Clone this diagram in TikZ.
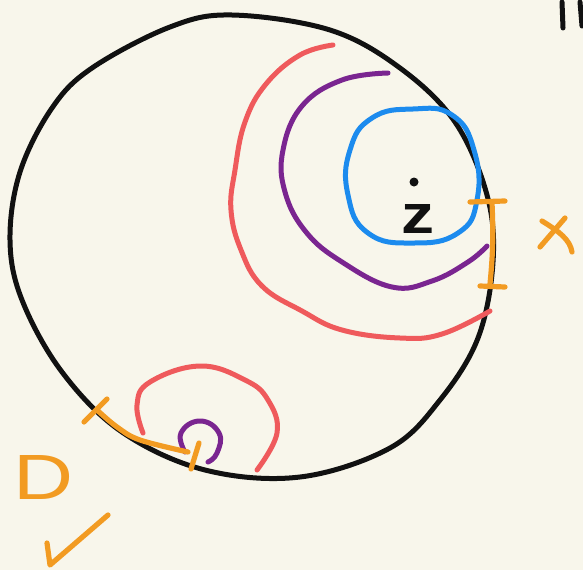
\documentclass[tikz,border=0pt]{standalone}
\usepackage{fontspec}
\usepackage{graphicx}
\setmainfont{Liberation Sans}
\definecolor{paper}{HTML}{F8F6EB}
\definecolor{inkK}{HTML}{111111}
\definecolor{inkR}{HTML}{EF5A5C}
\definecolor{inkP}{HTML}{7A2590}
\definecolor{inkB}{HTML}{1C8BEE}
\definecolor{inkO}{HTML}{F29B22}
\tikzset{
  pen/.style={line width=5pt, line cap=round, line join=round},
  blackpen/.style={pen, draw=inkK},
  redpen/.style={pen, draw=inkR},
  purplepen/.style={pen, draw=inkP},
  bluepen/.style={pen, draw=inkB},
  orangepen/.style={pen, draw=inkO, line width=5.2pt},
  letter/.style={inner sep=0pt, anchor=north west}
}

\begin{document}
\begin{tikzpicture}[x=1pt,y=-1pt]
\useasboundingbox (0,0) rectangle (583,570);
\fill[paper] (0,0) rectangle (583,570);

% big disc
\draw[blackpen] plot[smooth cycle, tension=0.6] coordinates {
  (232,15) (330,30) (400,68) (455,122) (487,195) (493,262) (478,338)
  (440,400) (390,448) (300,477) (205,470) (122,432) (62,372) (22,300)
  (10,240) (20,172) (52,108) (92,68) (170,27)};
\draw[blackpen] (562,2) -- (563,28);
\draw[blackpen] (580,2) -- (582,26);

% nested curves around z
\draw[redpen] plot[smooth, tension=0.7] coordinates {
  (333,45) (300,55) (266,84) (245,122) (235,170) (231,210) (241,250)
  (262,286) (302,311) (342,330) (400,338) (442,334) (490,311)};
\draw[purplepen] plot[smooth, tension=0.7] coordinates {
  (388,73) (342,80) (302,106) (283,150) (285,192) (306,232) (342,262)
  (392,287) (432,281) (468,262) (487,246)};
\draw[bluepen] plot[smooth cycle, tension=0.8] coordinates {
  (413,109) (452,115) (474,150) (477,200) (458,233) (413,243)
  (368,233) (348,195) (350,150) (372,118)};

\fill[inkK] (414,182) circle (4.5pt);
\node[letter, text=inkK] (zed) at (401,204) {\resizebox{33pt}{29pt}{\bfseries z}};

% orange marks on the right
\draw[orangepen] (470,202) -- (505,201);
\draw[orangepen] (492,203) to[bend left=4] (490,284);
\draw[orangepen] (480,286) -- (505,287);
\draw[orangepen] (540,247) -- (565,218);
\draw[orangepen] (542,221) .. controls (560,232) and (570,240) .. (572,252);

% bottom left detail
\draw[redpen] plot[smooth, tension=0.7] coordinates {
  (143,433) (137,405) (150,382) (200,366) (245,380) (268,400) (277,433)
  (257,470)};
\draw[purplepen] plot[smooth, tension=0.8] coordinates {
  (185,452) (181,433) (200,421) (219,433) (217,453) (208,462)};
\draw[orangepen] (84,422) -- (107,399);
\draw[orangepen] plot[smooth, tension=0.6] coordinates {
  (97,410) (117,427) (140,440) (188,452)};
\draw[orangepen] (191,469) -- (199,443);

\node[letter, text=inkO] (dee) at (13,455) {\resizebox{60pt}{44pt}{D}};
\draw[orangepen] (47,543) -- (50,565) -- (108,515);
\end{tikzpicture}
\end{document}
